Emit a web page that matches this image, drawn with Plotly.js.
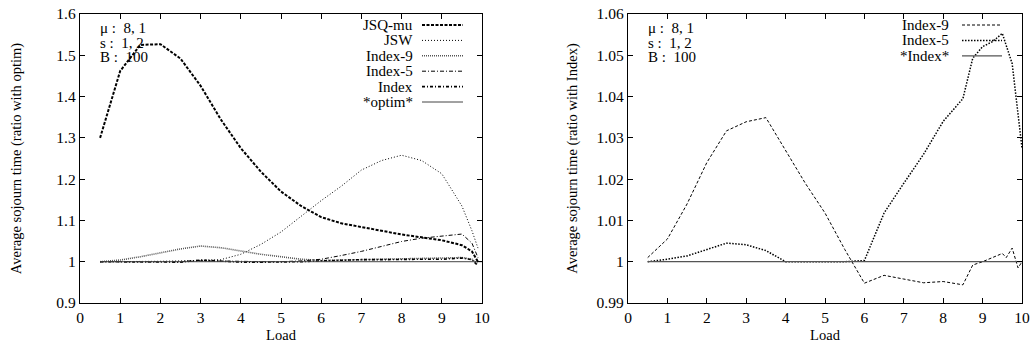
<!DOCTYPE html>
<html><head><meta charset="utf-8">
<script src="https://cdn.plot.ly/plotly-3.0.1.min.js"></script>
<style>html,body{margin:0;padding:0;background:#fff}#chart{width:1030px;height:352px}</style>
</head><body><div id="chart"></div>
<script>
// ---------- data (left panel: ratio with optim) ----------
const loadL = [0.5,1,1.5,2,2.5,3,3.5,4,4.5,5,5.5,6,6.5,7,7.5,8,8.5,9,9.5,9.75,9.9];
const jsqMu  = [1.300,1.462,1.525,1.527,1.492,1.426,1.345,1.275,1.218,1.170,1.135,1.108,1.093,1.084,1.075,1.066,1.059,1.052,1.040,1.025,1.000];
const jsw    = [1.000,1.000,1.000,1.001,1.002,1.003,1.005,1.018,1.042,1.072,1.110,1.148,1.183,1.222,1.245,1.258,1.245,1.213,1.135,1.075,1.033];
const index9L= [1.000,1.004,1.012,1.022,1.031,1.038,1.034,1.026,1.018,1.012,1.006,1.003,1.004,1.005,1.006,1.007,1.007,1.008,1.010,1.006,0.995];
const index5L= [1.000,1.000,1.000,1.000,1.000,1.002,1.002,1.001,1.000,1.000,1.002,1.006,1.015,1.025,1.037,1.049,1.057,1.062,1.067,1.045,1.010];
const indexL = [1.000,1.000,1.000,0.999,0.999,1.004,1.001,0.999,0.999,0.999,1.000,1.002,1.004,1.005,1.005,1.006,1.006,1.006,1.009,1.005,0.990];
const optimX = [0.5,10];
const optimY = [1.0,1.0];

// ---------- data (right panel: ratio with Index) ----------
const loadR9 = [0.5,1,1.5,2,2.5,3,3.5,4,4.5,5,5.5,6,6.5,7,7.5,8,8.5,8.75,9,9.5,9.6,9.75,9.9,10];
const index9R= [1.0010,1.0055,1.0140,1.0240,1.0317,1.0339,1.0349,1.0268,1.0190,1.0118,1.0030,0.9948,0.9967,0.9958,0.9949,0.9952,0.9944,0.9992,1.0000,1.0020,1.0010,1.0033,0.9985,1.0000];
const loadR5 = [0.5,1,1.5,2,2.5,3,3.5,4,4.5,5,5.5,6,6.5,7,7.5,8,8.5,8.75,9,9.25,9.5,9.75,10];
const index5R= [1.0000,1.0006,1.0014,1.0029,1.0045,1.0041,1.0027,1.0000,1.0000,1.0000,1.0000,1.0003,1.0118,1.0190,1.0260,1.0340,1.0395,1.0493,1.0521,1.0533,1.0553,1.0480,1.0275];
const indexRX = [0.5,10];
const indexRY = [1.0,1.0];

const xTicks = [0,1,2,3,4,5,6,7,8,9,10];
const yTicksL = [0.9,1.0,1.1,1.2,1.3,1.4,1.5,1.6];
const yTickTextL = ['0.9','1','1.1','1.2','1.3','1.4','1.5','1.6'];
const yTicksR = [0.99,1.00,1.01,1.02,1.03,1.04,1.05,1.06];
const yTickTextR = ['0.99','1','1.01','1.02','1.03','1.04','1.05','1.06'];
const paramLines = ['μ :  8, 1','s :  1, 2','B :  100'];
const legendL = ['JSQ-mu','JSW','Index-9','Index-5','Index','*optim*'];
const legendR = ['Index-9','Index-5','*Index*'];

// ---------- styles ----------
const W = 1030, H = 352;
const FONT = 'Liberation Serif, Times New Roman, serif';
const stL = [
  {color:'#000', width:2,   dash:'3px,1.5px'},
  {color:'#000', width:1,   dash:'1px,2px'},
  {color:'#555', width:1.6, dash:'1px,1px'},
  {color:'#000', width:1,   dash:'4px,2px,1px,2px'},
  {color:'#000', width:1.6, dash:'3px,2px,1px,2px'},
  {color:'#444', width:1,   dash:'solid'}
];
const stR = [
  {color:'#000', width:1,   dash:'3px,2px'},
  {color:'#000', width:1.5, dash:'1.5px,1.5px'},
  {color:'#555', width:1.2, dash:'solid'}
];

const seriesL = [[loadL,jsqMu],[loadL,jsw],[loadL,index9L],[loadL,index5L],[loadL,indexL],[optimX,optimY]];
const seriesR = [[loadR9,index9R],[loadR5,index5R],[indexRX,indexRY]];

const traces = [];
seriesL.forEach((s,i)=>traces.push({x:s[0],y:s[1],type:'scatter',mode:'lines',name:legendL[i],
  xaxis:'x',yaxis:'y',line:stL[i],showlegend:false,hoverinfo:'skip'}));
seriesR.forEach((s,i)=>traces.push({x:s[0],y:s[1],type:'scatter',mode:'lines',name:legendR[i],
  xaxis:'x2',yaxis:'y2',line:stR[i],showlegend:false,hoverinfo:'skip'}));

const px = v => v/W, py = v => 1 - v/H;
const annotations = [], shapes = [];
// parameter text
[[98],[646]].forEach((p,k)=>{
  paramLines.forEach((t,i)=>annotations.push({xref:'paper',yref:'paper',x:px(p[0]),y:py(28+14.5*i),
    text:t,showarrow:false,xanchor:'left',yanchor:'middle',font:{family:FONT,size:15,color:'#000'}}));
});
// manual gnuplot-style legends
function addLegend(names, styles, textRight, x0, x1, top, step){
  names.forEach((n,i)=>{
    const yy = py(top+step*i);
    annotations.push({xref:'paper',yref:'paper',x:px(textRight),y:yy,text:n,showarrow:false,
      xanchor:'right',yanchor:'middle',font:{family:FONT,size:15,color:'#000'}});
    shapes.push({type:'line',xref:'paper',yref:'paper',x0:px(x0),x1:px(x1),y0:yy,y1:yy,
      line:{color:styles[i].color,width:styles[i].width,dash:styles[i].dash}});
  });
}
addLegend(legendL, stL, 415, 422, 463, 25, 15.4);
addLegend(legendR, stR, 951, 962, 1002, 25, 15.4);

const axBase = {showline:true,linecolor:'#000',linewidth:1.2,mirror:'ticks',ticks:'inside',ticklen:5,
  tickcolor:'#000',tickwidth:1,showgrid:false,zeroline:false,automargin:false,
  tickfont:{family:FONT,size:15.5,color:'#000'}};
const titleFont = {family:FONT,size:14.5,color:'#000'};

const layout = {
  width:W,height:H,autosize:false,margin:{l:0,r:0,t:0,b:0},
  paper_bgcolor:'#fff',plot_bgcolor:'#fff',showlegend:false,
  xaxis:Object.assign({},axBase,{domain:[px(80),px(482)],range:[0,10],tickvals:xTicks,anchor:'y',
    title:{text:'Load',font:titleFont,standoff:5}}),
  yaxis:Object.assign({},axBase,{domain:[py(303),py(14)],range:[0.9,1.6],tickvals:yTicksL,ticktext:yTickTextL,anchor:'x',
    title:{text:'Average sojourn time (ratio with optim)',font:titleFont,standoff:31}}),
  xaxis2:Object.assign({},axBase,{domain:[px(628),px(1022)],range:[0,10],tickvals:xTicks,anchor:'y2',
    title:{text:'Load',font:titleFont,standoff:5}}),
  yaxis2:Object.assign({},axBase,{domain:[py(303),py(14)],range:[0.99,1.06],tickvals:yTicksR,ticktext:yTickTextR,anchor:'x2',
    title:{text:'Average sojourn time (ratio with Index)',font:titleFont,standoff:15}}),
  annotations:annotations,shapes:shapes
};
Plotly.newPlot('chart',traces,layout,{staticPlot:true,displayModeBar:false});
</script></body></html>
